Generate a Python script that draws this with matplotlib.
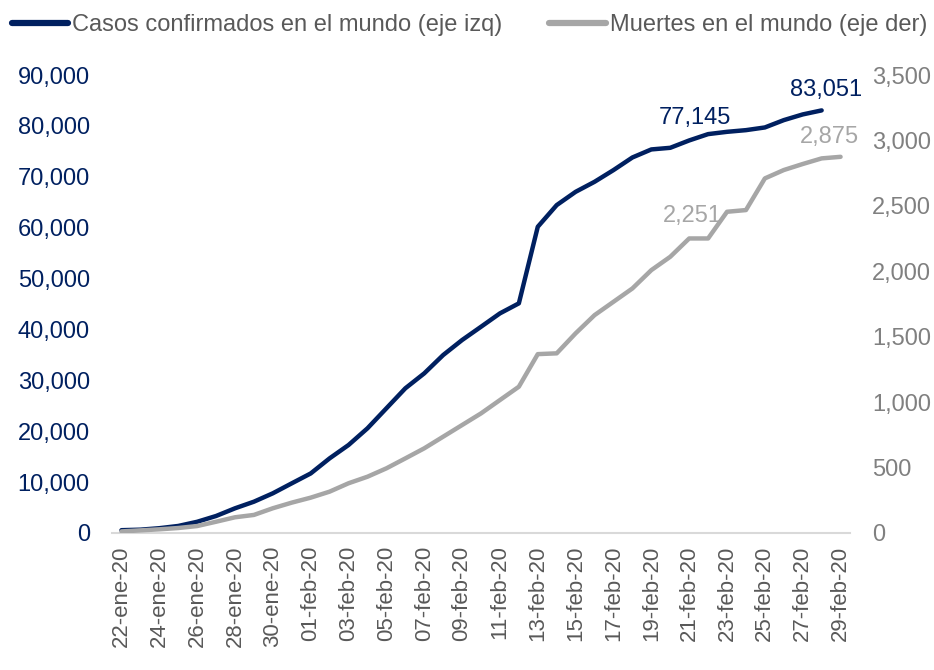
import matplotlib
matplotlib.use("Agg")
import matplotlib.pyplot as plt
from matplotlib.ticker import FuncFormatter

plt.rcParams['font.family'] = ['Liberation Sans', 'DejaVu Sans']

# daily dates, 22-ene-20 .. 29-feb-20
dates = ([f"{d:02d}-ene-20" for d in range(22, 32)] +
         [f"{d:02d}-feb-20" for d in range(1, 30)])

# confirmed cases worldwide (left axis), 22-ene .. 28-feb
casos = [550, 650, 940, 1380, 2200, 3340, 4850, 6150, 7800, 9760,
         11700, 14670, 17290, 20570, 24500, 28430, 31370, 34970, 37920, 40530,
         43160, 45130, 60180, 64440, 67050, 69020, 71320, 73800, 75380, 75700,
         77145, 78390, 78840, 79170, 79700, 81140, 82260, 83051]

# deaths worldwide (right axis), 22-ene .. 29-feb
muertes = [12, 20, 28, 38, 53, 86, 120, 138, 189, 232,
           270, 316, 380, 430, 494, 570, 647, 736, 825, 914,
           1016, 1118, 1367, 1373, 1526, 1665, 1767, 1869, 2009, 2111,
           2251, 2251, 2455, 2468, 2710, 2774, 2820, 2863, 2875]

NAVY = '#002060'
GRAY = '#A6A6A6'

fig = plt.figure(figsize=(9.34, 6.7), dpi=100)
ax = fig.add_axes([0.1199, 0.2045, 0.9101 - 0.1199, 0.888 - 0.2045])
ax2 = ax.twinx()

x_c = list(range(len(casos)))
x_m = list(range(len(muertes)))
ax.plot(x_c, casos, color=NAVY, lw=3.2, solid_capstyle='round', zorder=3)
ax2.plot(x_m, muertes, color=GRAY, lw=3.2, solid_capstyle='round', zorder=2)

ax.set_xlim(-0.5, len(dates) - 0.5)
ax.set_ylim(0, 90000)
ax2.set_ylim(0, 3500)
ax.set_yticks(range(0, 90001, 10000))
ax2.set_yticks(range(0, 3501, 500))
fmt = FuncFormatter(lambda v, p: f"{int(v):,}")
ax.yaxis.set_major_formatter(fmt)
ax2.yaxis.set_major_formatter(fmt)

ax.set_xticks(x_m[::2])
ax.set_xticklabels(dates[::2], rotation=90, fontsize=16, color='#595959')

for a in (ax, ax2):
    for s in a.spines.values():
        s.set_visible(False)
    a.tick_params(length=0)
ax.spines['bottom'].set_visible(True)
ax.spines['bottom'].set_color('#D9D9D9')
ax.spines['bottom'].set_linewidth(1.5)

ax.tick_params(axis='y', labelsize=17, labelcolor=NAVY, pad=16)
ax2.tick_params(axis='y', labelsize=17, labelcolor='#808080', pad=16)
ax.tick_params(axis='x', pad=9)

# data labels
i = 30
ax.annotate(f"{casos[i]:,}", (i, casos[i]), xytext=(4, 8), textcoords='offset points',
            ha='center', va='bottom', fontsize=17, color=NAVY)
i = len(casos) - 1
ax.annotate(f"{casos[i]:,}", (i, casos[i]), xytext=(3, 7), textcoords='offset points',
            ha='center', va='bottom', fontsize=17, color=NAVY)
i = 30
ax2.annotate(f"{muertes[i]:,}", (i, muertes[i]), xytext=(2, 8), textcoords='offset points',
             ha='center', va='bottom', fontsize=17, color=GRAY)
i = len(muertes) - 1
ax2.annotate(f"{muertes[i]:,}", (i, muertes[i]), xytext=(-8, 6), textcoords='offset points',
             ha='center', va='bottom', fontsize=17, color=GRAY)

# legend
h1, = ax.plot([], [], color=NAVY, lw=4.5, solid_capstyle='round')
h2, = ax.plot([], [], color=GRAY, lw=4.5, solid_capstyle='round')
fig.legend([h1, h2], ["Casos confirmados en el mundo (eje izq)", "Muertes en el mundo (eje der)"],
           loc='upper left', bbox_to_anchor=(0.005, 0.99), ncol=2, frameon=False,
           fontsize=17, handlelength=2.4, handletextpad=0.15, columnspacing=2.0,
           borderpad=0.3, borderaxespad=0.0, labelcolor='#595959')

fig.savefig("out.png", dpi=100)
